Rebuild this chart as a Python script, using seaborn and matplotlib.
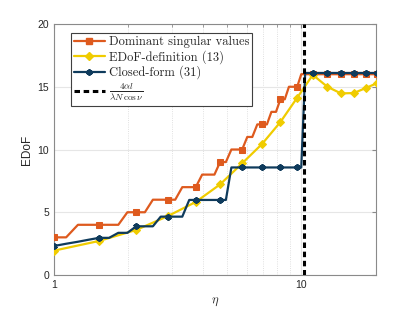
import numpy as np
import pandas as pd
import matplotlib
matplotlib.use('Agg')
import matplotlib.pyplot as plt
from matplotlib.lines import Line2D
from matplotlib.ticker import FixedLocator, NullFormatter
import seaborn as sns

# sample grid of eta (log x axis)
eta = [1.00, 1.12, 1.25, 1.38, 1.52, 1.67, 1.82, 1.98, 2.15, 2.33,
       2.51, 2.70, 2.89, 3.09, 3.30, 3.52, 3.74, 3.97, 4.20, 4.45,
       4.69, 4.95, 5.21, 5.48, 5.76, 6.04, 6.33, 6.63, 6.93, 7.25,
       7.56, 7.89, 8.22, 8.56, 8.90, 9.25, 9.61, 9.98, 10.35, 10.73,
       11.11, 11.50, 11.90, 12.31, 12.72, 13.14, 13.57, 14.00, 14.44, 14.89,
       15.34, 15.80, 16.27, 16.74, 17.22, 17.71, 18.20, 18.71, 19.21, 19.73,
       20.25]

dominant_sv = [3, 3, 4, 4, 4, 4, 4, 5, 5, 5,
               6, 6, 6, 6, 7, 7, 7, 8, 8, 8,
               9, 9, 10, 10, 10, 11, 11, 12, 12, 12,
               13, 13, 14, 14, 15, 15, 15, 16, 16, 16,
               16, 16, 16, 16, 16, 16, 16, 16, 16, 16,
               16, 16, 16, 16, 16, 16, 16, 16, 16, 16,
               16]

closed_form = [2.31, 2.49, 2.65, 2.81, 2.96, 2.96, 3.36, 3.36, 3.88, 3.88,
               3.88, 4.65, 4.65, 4.65, 4.65, 5.98, 5.98, 5.98, 5.98, 5.98,
               5.98, 5.98, 8.57, 8.57, 8.57, 8.57, 8.57, 8.57, 8.57, 8.57,
               8.57, 8.57, 8.57, 8.57, 8.57, 8.57, 8.57, 8.57, 16.1, 16.1,
               16.1, 16.1, 16.1, 16.1, 16.1, 16.1, 16.1, 16.1, 16.1, 16.1,
               16.1, 16.1, 16.1, 16.1, 16.1, 16.1, 16.1, 16.1, 16.1, 16.1,
               16.1]

# EDoF definition, sampled at the marker positions
eta_def = [1.00, 1.52, 2.15, 2.89, 3.74, 4.69, 5.76, 6.93, 8.22, 9.61,
           11.11, 12.72, 14.44, 16.27, 18.20, 20.25]
edof_def = [1.94, 2.71, 3.59, 4.70, 5.82, 7.22, 8.90, 10.44, 12.19, 14.13,
            15.95, 15.0, 14.47, 14.5, 14.9, 15.3]

eta_limit = 10.25

c_orange = '#DE5A1E'
c_yellow = '#F0CC00'
c_blue = '#0F3B5C'

sns.set_style('white')
plt.rcParams['font.family'] = ['Liberation Sans', 'DejaVu Sans']
plt.rcParams['mathtext.fontset'] = 'cm'

fig = plt.figure(figsize=(4.15, 3.12), dpi=100)
ax = fig.add_axes([0.130, 0.1186, 0.776, 0.8044])

df = pd.DataFrame({'eta': eta, 'sv': dominant_sv, 'cf': closed_form})
df_def = pd.DataFrame({'eta': eta_def, 'edof': edof_def})

blue_marker = (6, 2, 0)

sns.lineplot(data=df, x='eta', y='sv', ax=ax, color=c_orange, lw=1.6,
             marker='s', markevery=4, ms=4.5, mfc=c_orange, mec=c_orange, zorder=3)
sns.lineplot(data=df_def, x='eta', y='edof', ax=ax, color=c_yellow, lw=1.6,
             marker='D', ms=4.5, mfc=c_yellow, mec=c_yellow, zorder=4)
sns.lineplot(data=df, x='eta', y='cf', ax=ax, color=c_blue, lw=1.6,
             marker=blue_marker, markevery=4, ms=4.5, mew=1.5, mec=c_blue, zorder=5)
ax.axvline(eta_limit, color='black', lw=2.2, ls=(0, (1.8, 1.2)), zorder=6)

ax.set_xscale('log')
ax.set_xlim(1, 20)
ax.set_ylim(0, 20)
ax.set_yticks([0, 5, 10, 15, 20])
ax.xaxis.set_major_locator(FixedLocator([1, 10]))
ax.set_xticklabels(['1', '10'])
ax.xaxis.set_minor_locator(FixedLocator([2, 3, 4, 5, 6, 7, 8, 9, 20]))
ax.xaxis.set_minor_formatter(NullFormatter())

ax.grid(True, which='major', axis='both', color='#e6e6e6', lw=0.8, ls='-')
ax.grid(True, which='minor', axis='x', color='#d6d6d6', lw=0.6, ls=':')
ax.set_axisbelow(True)

for sp in ax.spines.values():
    sp.set_color('#8a8a8a')
    sp.set_linewidth(0.8)
ax.tick_params(which='both', direction='in', top=True, right=True,
               colors='#8a8a8a', labelcolor='#262626', labelsize=7.5)
ax.tick_params(which='major', length=3)
ax.tick_params(which='minor', length=1.8)

ax.set_xlabel(r'$\eta$', fontsize=9, color='#262626', labelpad=4)
ax.set_ylabel('EDoF', fontsize=8.5, color='#262626', labelpad=3)

handles = [
    Line2D([], [], color=c_orange, lw=1.6, marker='s', ms=4.5, mfc=c_orange, mec=c_orange),
    Line2D([], [], color=c_yellow, lw=1.6, marker='D', ms=4.5, mfc=c_yellow, mec=c_yellow),
    Line2D([], [], color=c_blue, lw=1.6, marker=blue_marker, ms=4.5, mew=1.5, mec=c_blue),
    Line2D([], [], color='black', lw=2.2, ls=(0, (1.8, 1.2))),
]
labels = ['Dominant singular values',
          'EDoF-definition (13)',
          'Closed-form (31)',
          r'$\frac{4\alpha l}{\lambda N\,\cos\nu}$']
leg = ax.legend(handles, labels, loc='upper left', bbox_to_anchor=(0.052, 0.965),
                prop={'family': 'cmr10', 'size': 9}, frameon=True, fancybox=False,
                framealpha=1, edgecolor='#404040', handlelength=2.5,
                handletextpad=0.3, borderpad=0.25, labelspacing=0.15,
                borderaxespad=0)
leg.get_frame().set_linewidth(0.8)
leg.get_texts()[3].set_fontsize(9.5)

fig.savefig('out.png', dpi=100)
